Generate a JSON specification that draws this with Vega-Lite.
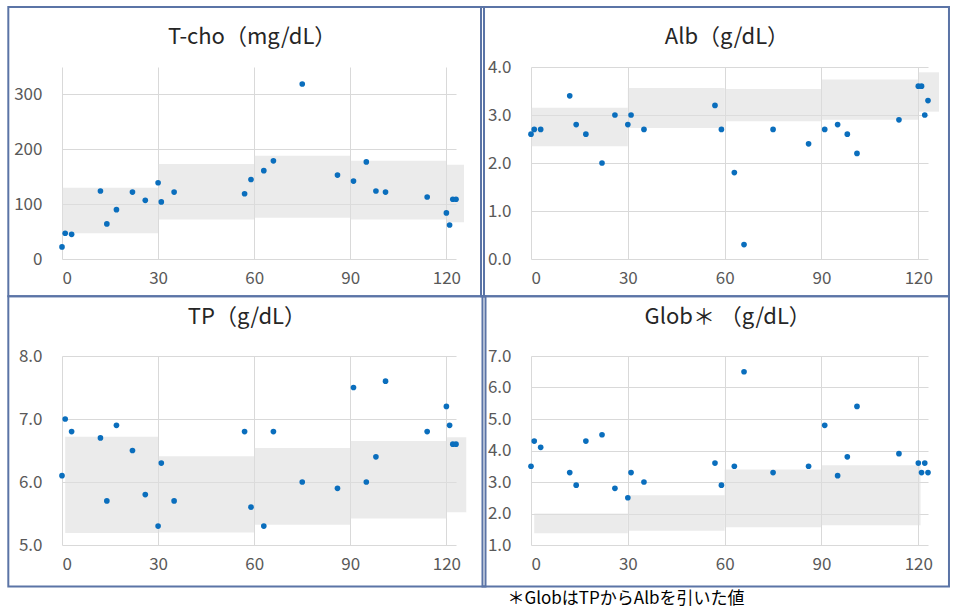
{
  "$schema": "https://vega.github.io/schema/vega-lite/v6.json",
  "padding": {"left": 7, "top": 5, "right": 0, "bottom": 2},
  "background": "#ffffff",
  "columns": 2,
  "bounds": "flush",
  "spacing": {"row": 97, "column": 75},
  "datasets": {
    "points": [
      {"day": 0, "tcho": 22, "alb": 2.6, "tp": 6.1, "glob": 3.5},
      {"day": 1, "tcho": 47, "alb": 2.7, "tp": 7.0, "glob": 4.3},
      {"day": 3, "tcho": 45, "alb": 2.7, "tp": 6.8, "glob": 4.1},
      {"day": 12, "tcho": 124, "alb": 3.4, "tp": 6.7, "glob": 3.3},
      {"day": 14, "tcho": 64, "alb": 2.8, "tp": 5.7, "glob": 2.9},
      {"day": 17, "tcho": 90, "alb": 2.6, "tp": 6.9, "glob": 4.3},
      {"day": 22, "tcho": 122, "alb": 2.0, "tp": 6.5, "glob": 4.5},
      {"day": 26, "tcho": 107, "alb": 3.0, "tp": 5.8, "glob": 2.8},
      {"day": 30, "tcho": 139, "alb": 2.8, "tp": 5.3, "glob": 2.5},
      {"day": 31, "tcho": 104, "alb": 3.0, "tp": 6.3, "glob": 3.3},
      {"day": 35, "tcho": 122, "alb": 2.7, "tp": 5.7, "glob": 3.0},
      {"day": 57, "tcho": 119, "alb": 3.2, "tp": 6.8, "glob": 3.6},
      {"day": 59, "tcho": 145, "alb": 2.7, "tp": 5.6, "glob": 2.9},
      {"day": 63, "tcho": 161, "alb": 1.8, "tp": 5.3, "glob": 3.5},
      {"day": 66, "tcho": 179, "alb": 0.3, "tp": 6.8, "glob": 6.5},
      {"day": 75, "tcho": 319, "alb": 2.7, "tp": 6.0, "glob": 3.3},
      {"day": 86, "tcho": 153, "alb": 2.4, "tp": 5.9, "glob": 3.5},
      {"day": 91, "tcho": 142, "alb": 2.7, "tp": 7.5, "glob": 4.8},
      {"day": 95, "tcho": 177, "alb": 2.8, "tp": 6.0, "glob": 3.2},
      {"day": 98, "tcho": 124, "alb": 2.6, "tp": 6.4, "glob": 3.8},
      {"day": 101, "tcho": 122, "alb": 2.2, "tp": 7.6, "glob": 5.4},
      {"day": 114, "tcho": 113, "alb": 2.9, "tp": 6.8, "glob": 3.9},
      {"day": 120, "tcho": 84, "alb": 3.6, "tp": 7.2, "glob": 3.6},
      {"day": 121, "tcho": 62, "alb": 3.6, "tp": 6.9, "glob": 3.3},
      {"day": 122, "tcho": 109, "alb": 3.0, "tp": 6.6, "glob": 3.6},
      {"day": 123, "tcho": 109, "alb": 3.3, "tp": 6.6, "glob": 3.3}
    ],
    "bands": [
      {"test": "tcho", "start": 0, "end": 30, "lo": 47, "hi": 130},
      {"test": "tcho", "start": 30, "end": 60, "lo": 72, "hi": 173},
      {"test": "tcho", "start": 60, "end": 90, "lo": 75, "hi": 188},
      {"test": "tcho", "start": 90, "end": 120, "lo": 72, "hi": 179},
      {"test": "tcho", "start": 120, "end": 125.5, "lo": 67, "hi": 172},
      {"test": "alb", "start": 0, "end": 30, "lo": 2.35, "hi": 3.15},
      {"test": "alb", "start": 30, "end": 60, "lo": 2.73, "hi": 3.56},
      {"test": "alb", "start": 60, "end": 90, "lo": 2.87, "hi": 3.54},
      {"test": "alb", "start": 90, "end": 120, "lo": 2.9, "hi": 3.74},
      {"test": "alb", "start": 120, "end": 126.4, "lo": 3.07, "hi": 3.89},
      {"test": "tp", "start": 1, "end": 30, "lo": 5.19, "hi": 6.72},
      {"test": "tp", "start": 30, "end": 60, "lo": 5.2, "hi": 6.41},
      {"test": "tp", "start": 60, "end": 90, "lo": 5.32, "hi": 6.54},
      {"test": "tp", "start": 90, "end": 120.2, "lo": 5.42, "hi": 6.65},
      {"test": "tp", "start": 120.2, "end": 126.2, "lo": 5.52, "hi": 6.71},
      {"test": "glob", "start": 1, "end": 30, "lo": 1.37, "hi": 2.0},
      {"test": "glob", "start": 30, "end": 60, "lo": 1.45, "hi": 2.58},
      {"test": "glob", "start": 60, "end": 90, "lo": 1.56, "hi": 3.4},
      {"test": "glob", "start": 90, "end": 120.7, "lo": 1.63, "hi": 3.53}
    ]
  },
  "config": {
    "view": {"stroke": null},
    "axis": {
      "grid": true, "gridColor": "#d9d9d9", "gridWidth": 1,
      "domain": false, "ticks": false,
      "labelFont": "Noto Sans CJK JP", "labelFontSize": 17, "labelColor": "#595959",
      "labelPadding": 11, "labelOverlap": false, "title": null
    },
    "axisY": {"labelPadding": 20},
    "title": {"font": "Noto Sans CJK JP", "fontSize": 22, "fontWeight": "normal", "color": "#262626", "frame": "bounds", "anchor": "middle"}
  },
  "concat": [
    {
      "width": 394, "height": 192,
      "title": {"text": "T-cho（mg/dL）", "offset": -43, "dx": 6},
      "layer": [
        {
          "data": {"values": [{}]},
          "mark": {"type": "rect", "filled": false, "stroke": "#5b74a6", "strokeWidth": 2},
          "encoding": {
            "x": {"datum": -16.76, "type": "quantitative", "scale": {"domain": [0, 123], "nice": false, "zero": false}, "axis": {"values": [0, 30, 60, 90, 120], "tickCount": 10, "title": null}},
            "x2": {"datum": 131.74},
            "y": {"datum": -68.0, "type": "quantitative", "scale": {"domain": [0, 350], "nice": false}, "axis": {"values": [0, 100, 200, 300], "tickCount": 10, "labelOverlap": false, "title": null}},
            "y2": {"datum": 459.4}
          }
        },
        {
          "data": {"name": "bands"},
          "transform": [{"filter": "datum.test === 'tcho'"}],
          "mark": {"type": "rect", "color": "#dedede", "opacity": 0.6},
          "encoding": {
            "x": {"field": "start", "type": "quantitative", "axis": {"title": null}},
            "x2": {"field": "end"},
            "y": {"field": "lo", "type": "quantitative", "axis": {"title": null}},
            "y2": {"field": "hi"}
          }
        },
        {
          "data": {"name": "points"},
          "mark": {"type": "circle", "color": "#0a6ebd", "size": 32, "opacity": 1},
          "encoding": {
            "x": {"field": "day", "type": "quantitative", "axis": {"title": null}},
            "y": {"field": "tcho", "type": "quantitative", "axis": {"title": null}}
          }
        }
      ]
    },
    {
      "width": 397, "height": 192,
      "title": {"text": "Alb（g/dL）", "offset": -43, "dx": 12},
      "layer": [
        {
          "data": {"values": [{}]},
          "mark": {"type": "rect", "filled": false, "stroke": "#5b74a6", "strokeWidth": 2},
          "encoding": {
            "x": {"datum": -15.49, "type": "quantitative", "scale": {"domain": [0, 123], "nice": false, "zero": false}, "axis": {"values": [0, 30, 60, 90, 120], "tickCount": 10, "title": null}},
            "x2": {"datum": 129.5},
            "y": {"datum": -0.777, "type": "quantitative", "scale": {"domain": [0, 4], "nice": false}, "axis": {"values": [0, 1, 2, 3, 4], "tickCount": 10, "format": ".1f", "labelOverlap": false, "title": null}},
            "y2": {"datum": 5.25}
          }
        },
        {
          "data": {"name": "bands"},
          "transform": [{"filter": "datum.test === 'alb'"}],
          "mark": {"type": "rect", "color": "#dedede", "opacity": 0.6},
          "encoding": {
            "x": {"field": "start", "type": "quantitative", "axis": {"title": null}},
            "x2": {"field": "end"},
            "y": {"field": "lo", "type": "quantitative", "axis": {"title": null}},
            "y2": {"field": "hi"}
          }
        },
        {
          "data": {"name": "points"},
          "mark": {"type": "circle", "color": "#0a6ebd", "size": 32, "opacity": 1},
          "encoding": {
            "x": {"field": "day", "type": "quantitative", "axis": {"title": null}},
            "y": {"field": "alb", "type": "quantitative", "axis": {"title": null}}
          }
        }
      ]
    },
    {
      "width": 394, "height": 189,
      "title": {"text": "TP（g/dL）", "offset": -34},
      "layer": [
        {
          "data": {"values": [{}]},
          "mark": {"type": "rect", "filled": false, "stroke": "#5b74a6", "strokeWidth": 2},
          "encoding": {
            "x": {"datum": -16.76, "type": "quantitative", "scale": {"domain": [0, 123], "nice": false, "zero": false}, "axis": {"values": [0, 30, 60, 90, 120], "tickCount": 10, "title": null}},
            "x2": {"datum": 132.21},
            "y": {"datum": 4.341, "type": "quantitative", "scale": {"domain": [5, 8], "nice": false, "zero": false}, "axis": {"values": [5, 6, 7, 8], "tickCount": 10, "format": ".1f", "labelOverlap": false, "title": null}},
            "y2": {"datum": 8.948}
          }
        },
        {
          "data": {"name": "bands"},
          "transform": [{"filter": "datum.test === 'tp'"}],
          "mark": {"type": "rect", "color": "#dedede", "opacity": 0.6},
          "encoding": {
            "x": {"field": "start", "type": "quantitative", "axis": {"title": null}},
            "x2": {"field": "end"},
            "y": {"field": "lo", "type": "quantitative", "axis": {"title": null}},
            "y2": {"field": "hi"}
          }
        },
        {
          "data": {"name": "points"},
          "mark": {"type": "circle", "color": "#0a6ebd", "size": 32, "opacity": 1},
          "encoding": {
            "x": {"field": "day", "type": "quantitative", "axis": {"title": null}},
            "y": {"field": "tp", "type": "quantitative", "axis": {"title": null}}
          }
        }
      ]
    },
    {
      "width": 397, "height": 189,
      "title": {"text": "Glob＊ （g/dL）", "offset": -34, "dx": 12},
      "layer": [
        {
          "data": {"values": [{}]},
          "mark": {"type": "rect", "filled": false, "stroke": "#5b74a6", "strokeWidth": 2},
          "encoding": {
            "x": {"datum": -15.03, "type": "quantitative", "scale": {"domain": [0, 123], "nice": false, "zero": false},
                  "axis": {"values": [0, 30, 60, 90, 120], "tickCount": 10, "title": "＊GlobはTPからAlbを引いた値", "titleAnchor": "start", "titleAlign": "left", "titleX": -24, "titleY": 53, "titleBaseline": "middle", "titleFont": "Noto Sans CJK JP", "titleFontSize": 17, "titleFontWeight": "normal", "titleColor": "#000000"}},
            "x2": {"datum": 129.5},
            "y": {"datum": -0.3175, "type": "quantitative", "scale": {"domain": [1, 7], "nice": false, "zero": false}, "axis": {"values": [1, 2, 3, 4, 5, 6, 7], "tickCount": 10, "format": ".1f", "labelOverlap": false, "title": null}},
            "y2": {"datum": 8.895}
          }
        },
        {
          "data": {"name": "bands"},
          "transform": [{"filter": "datum.test === 'glob'"}],
          "mark": {"type": "rect", "color": "#dedede", "opacity": 0.6},
          "encoding": {
            "x": {"field": "start", "type": "quantitative"},
            "x2": {"field": "end"},
            "y": {"field": "lo", "type": "quantitative", "axis": {"title": null}},
            "y2": {"field": "hi"}
          }
        },
        {
          "data": {"name": "points"},
          "mark": {"type": "circle", "color": "#0a6ebd", "size": 32, "opacity": 1},
          "encoding": {
            "x": {"field": "day", "type": "quantitative"},
            "y": {"field": "glob", "type": "quantitative", "axis": {"title": null}}
          }
        }
      ]
    }
  ]
}
